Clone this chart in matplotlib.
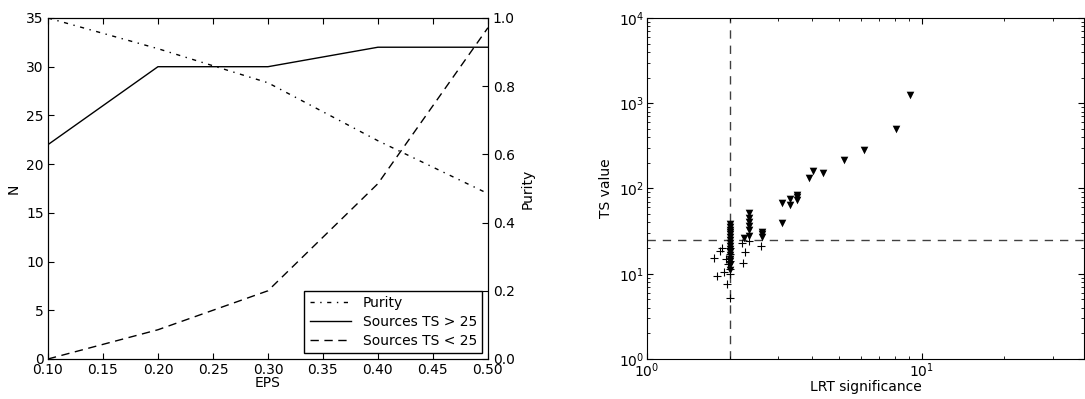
import matplotlib
matplotlib.use("Agg")
import matplotlib.pyplot as plt
import numpy as np

# left panel data
eps = [0.10, 0.20, 0.30, 0.40, 0.50]
n_ts_hi = [22, 30, 30, 32, 32]
n_ts_lo = [0, 3, 7, 18, 34]
purity = [1.0, 0.91, 0.81, 0.64, 0.485]

# right panel data (LRT significance, TS value)
tri_lrt = [9.05, 8.04, 6.17, 5.23, 4.39, 4.03, 3.90, 3.52, 3.52, 3.52, 3.32, 3.32, 3.11, 3.11,
           2.35, 2.35, 2.35, 2.35, 2.35, 2.35, 2.63, 2.63, 2.63, 2.25,
           2.0, 2.0, 2.0, 2.0, 2.0, 2.0, 2.0, 2.0, 2.0, 2.0, 2.0, 2.0, 2.0, 2.0, 2.0, 2.0]
tri_ts = [1250, 495, 283, 216, 152, 162, 133, 84, 79, 73, 76, 64, 67, 39,
          51, 45, 40, 36, 33, 28, 31, 29, 27, 26,
          38, 35, 33, 31, 29, 27, 25, 23, 21, 19.5, 18, 16.5, 15, 14, 12.5, 11]
plus_lrt = [1.75, 1.84, 1.87, 1.80, 1.91, 1.94, 1.95, 1.98, 2.01, 2.22, 2.27, 2.23, 2.36, 2.61,
            2.0, 2.0, 2.0, 2.0, 2.0]
plus_ts = [15.4, 18.6, 19.9, 9.5, 10.6, 14.8, 7.6, 12.9, 5.2, 22.8, 18, 13.5, 24.5, 21.3,
           20, 17, 14, 11.5, 9.8]

plt.rcParams['font.family'] = 'DejaVu Sans'
plt.rcParams['font.size'] = 10

fig = plt.figure(figsize=(10.85, 3.99), dpi=100)

# ---- left panel ----
ax1 = fig.add_axes([0.0442, 0.1003, 0.4055, 0.8546])
l2, = ax1.plot(eps, n_ts_hi, color='k', lw=1, label='Sources TS > 25')
l3, = ax1.plot(eps, n_ts_lo, color='k', lw=1, dashes=(6, 4), label='Sources TS < 25')
ax1.set_xlim(0.1, 0.5)
ax1.set_ylim(0, 35)
ax1.set_xticks(np.arange(0.10, 0.51, 0.05))
ax1.set_xticklabels(['%.2f' % v for v in np.arange(0.10, 0.51, 0.05)])
ax1.set_xlabel('EPS', labelpad=-1)
ax1.set_ylabel('N')
ax1.tick_params(direction='in', top=True, length=4, pad=3)

ax2 = ax1.twinx()
l1, = ax2.plot(eps, purity, color='k', lw=1, dashes=(3, 4, 1, 4), label='Purity')
ax2.set_ylim(0, 1.0)
ax2.set_yticks([0.0, 0.2, 0.4, 0.6, 0.8, 1.0])
ax2.set_ylabel('Purity')
ax2.tick_params(direction='in', length=4)

leg = ax2.legend(handles=[l1, l2, l3], loc='lower right', fancybox=False,
                 framealpha=1, edgecolor='k', fontsize=10, handlelength=3,
                 borderaxespad=0.4, labelspacing=0.35)
leg.get_frame().set_linewidth(1)

# ---- right panel ----
ax3 = fig.add_axes([0.5963, 0.1003, 0.4028, 0.8546])
ax3.set_xscale('log')
ax3.set_yscale('log')
ax3.scatter(tri_lrt, tri_ts, marker='v', s=30, color='k', linewidths=0)
ax3.scatter(plus_lrt, plus_ts, marker='+', s=28, color='k', linewidths=0.8)
ax3.axvline(2.0, color='k', lw=1, dashes=(6, 5), alpha=0.75)
ax3.axhline(25, color='k', lw=1, dashes=(6, 5), alpha=0.75)
ax3.set_xlim(1, 39)
ax3.set_ylim(1, 1e4)
ax3.set_xlabel('LRT significance', labelpad=0)
ax3.set_ylabel('TS value')
ax3.tick_params(direction='in', which='both', top=True, right=True, pad=2)
ax3.tick_params(which='major', length=4)
ax3.tick_params(which='minor', length=2)

fig.savefig('out.png', dpi=100)
